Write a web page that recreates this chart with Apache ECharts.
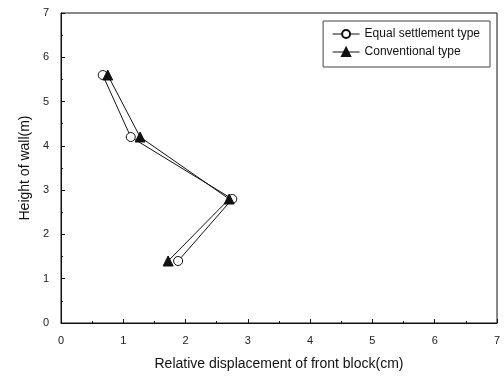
<!DOCTYPE html>
<html>
<head>
<meta charset="utf-8">
<script src="https://cdn.jsdelivr.net/npm/echarts@6/dist/echarts.min.js"></script>
<style>
  html, body { margin: 0; padding: 0; background: #fff; }
  #main { width: 504px; height: 380px; }
</style>
</head>
<body>
<div id="main"></div>
<script>
// wall heights (m) and relative displacement (cm)
const heights = [5.6, 4.2, 2.8, 1.4];
const equalSettlement = [0.67, 1.12, 2.75, 1.88];
const conventional = [0.75, 1.27, 2.7, 1.72];
const seriesNames = ['Equal settlement type', 'Conventional type'];

const pair = (xs) => xs.map((x, i) => [x, heights[i]]);

const myChart = echarts.init(document.getElementById('main'));
const axisFont = { color: '#222', fontSize: 11, fontFamily: 'Liberation Sans' };

const option = {
  animation: false,
  grid: {
    left: 61, right: 7, top: 13, bottom: 57,
    show: true, borderColor: '#111', borderWidth: 1
  },
  legend: {
    orient: 'vertical',
    right: 14, top: 21,
    padding: [7, 10, 9, 9],
    itemGap: 6,
    itemWidth: 27, itemHeight: 10,
    borderColor: '#444', borderWidth: 1,
    data: seriesNames,
    lineStyle: { width: 1 },
    textStyle: { color: '#111', fontSize: 12, fontFamily: 'Liberation Sans' }
  },
  xAxis: {
    type: 'value', min: 0, max: 7, interval: 1,
    name: 'Relative displacement of front block(cm)',
    nameLocation: 'middle', nameGap: 34,
    nameTextStyle: { color: '#111', fontSize: 14, fontFamily: 'Liberation Sans' },
    axisLine: { lineStyle: { color: '#111', width: 1 } },
    axisTick: { inside: true, length: 4, lineStyle: { color: '#111' } },
    minorTick: { show: true, splitNumber: 2, length: 2, lineStyle: { color: '#111' } },
    axisLabel: Object.assign({ margin: 12 }, axisFont),
    splitLine: { show: false }
  },
  yAxis: {
    type: 'value', min: 0, max: 7, interval: 1,
    name: 'Height of wall(m)',
    nameLocation: 'middle', nameGap: 27,
    nameTextStyle: { color: '#111', fontSize: 14, fontFamily: 'Liberation Sans' },
    axisLine: { lineStyle: { color: '#111', width: 1 } },
    axisTick: { inside: true, length: 4, lineStyle: { color: '#111' } },
    minorTick: { show: true, splitNumber: 2, length: 2, lineStyle: { color: '#111' } },
    axisLabel: Object.assign({ margin: 12 }, axisFont),
    splitLine: { show: false }
  },
  series: [
    {
      name: seriesNames[0],
      type: 'line',
      data: pair(equalSettlement),
      symbol: 'circle', symbolSize: 9,
      lineStyle: { color: '#111', width: 1 },
      itemStyle: { color: '#fff', borderColor: '#111', borderWidth: 1 }
    },
    {
      name: seriesNames[1],
      type: 'line',
      data: pair(conventional),
      symbol: 'triangle', symbolSize: 10,
      lineStyle: { color: '#111', width: 1 },
      itemStyle: { color: '#111', borderColor: '#111', borderWidth: 1 }
    }
  ]
};
myChart.setOption(option);
</script>
</body>
</html>
